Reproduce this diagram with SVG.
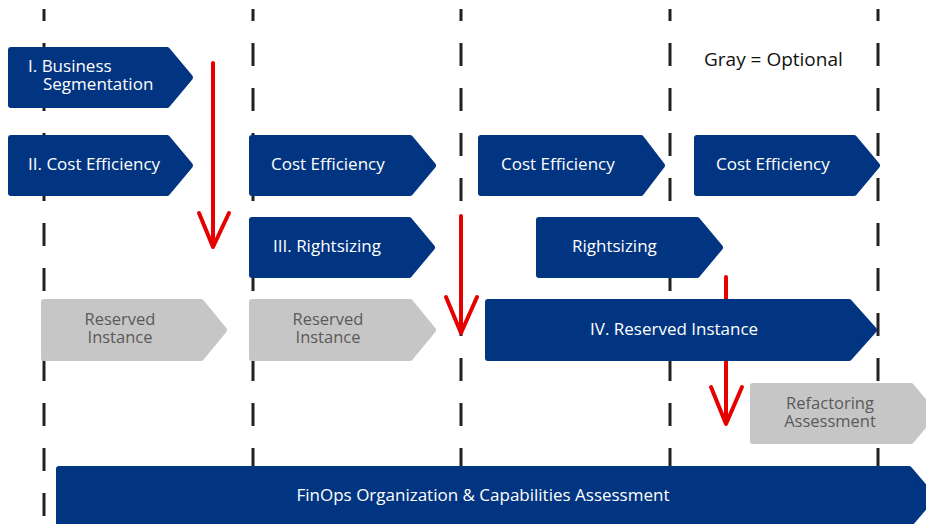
<svg xmlns="http://www.w3.org/2000/svg" width="926" height="524" viewBox="0 0 926 524">
<defs>
<style>
.lane{stroke:#222;stroke-width:3;stroke-dasharray:23 22;stroke-dashoffset:11;fill:none}
.blue{fill:#023581;stroke:#023581;stroke-width:6;stroke-linejoin:round}
.gray{fill:#C6C6C6;stroke:#C6C6C6;stroke-width:6;stroke-linejoin:round}
.wt{font-family:"Open Sans","Noto Sans",sans-serif;font-size:17px;fill:#fff}
.gt{font-family:"Open Sans","Noto Sans",sans-serif;font-size:16.5px;fill:#5a5a5a;text-anchor:middle}
.red{stroke:#E60000;stroke-width:4;fill:none;stroke-linecap:round;stroke-linejoin:round}
</style>
</defs>
<rect width="926" height="524" fill="#fff"/>
<g id="lanes">
<line class="lane" x1="44" y1="9" x2="44" y2="524"/>
<line class="lane" x1="253" y1="9" x2="253" y2="524"/>
<line class="lane" x1="461" y1="9" x2="461" y2="524"/>
<line class="lane" x1="670" y1="9" x2="670" y2="524"/>
<line class="lane" x1="878" y1="9" x2="878" y2="524"/>
</g>
<g id="connectors">
<path class="red" d="M213 63 V247 M199 213 L213 247 L229 213"/>
<path class="red" d="M461 216 V333 M446 297 L461 333 L477 297"/>
<path class="red" d="M726 277 V424 M711 387 L726 424 L742 387"/>
</g>
<g id="business-segmentation">
<path class="blue" d="M11 50 H167 L190 77.5 L167 105 H11 Z"/>
<text class="wt" x="28" y="72">I. Business</text>
<text class="wt" x="43" y="90">Segmentation</text>
</g>
<g id="cost-efficiency-1">
<path class="blue" d="M11 138 H167 L190 165.5 L167 193 H11 Z"/>
<text class="wt" x="28" y="170">II. Cost Efficiency</text>
</g>
<g id="cost-efficiency-2">
<path class="blue" d="M252 138 H410 L433 165.5 L410 193 H252 Z"/>
<text class="wt" x="271" y="170">Cost Efficiency</text>
</g>
<g id="cost-efficiency-3">
<path class="blue" d="M481 138 H641 L662 165.5 L641 193 H481 Z"/>
<text class="wt" x="501" y="170">Cost Efficiency</text>
</g>
<g id="cost-efficiency-4">
<path class="blue" d="M697 138 H854 L877 165.5 L854 193 H697 Z"/>
<text class="wt" x="716" y="170">Cost Efficiency</text>
</g>
<g id="rightsizing-1">
<path class="blue" d="M252 220 H409 L432 247.5 L409 275 H252 Z"/>
<text class="wt" x="273" y="252">III. Rightsizing</text>
</g>
<g id="rightsizing-2">
<path class="blue" d="M539 220 H697 L720 247.5 L697 275 H539 Z"/>
<text class="wt" x="572" y="252">Rightsizing</text>
</g>
<g id="reserved-instance-1">
<path class="gray" d="M44 302 H201 L224 330 L201 358 H44 Z"/>
<text class="gt" x="120" y="324.5">Reserved</text>
<text class="gt" x="120" y="343">Instance</text>
</g>
<g id="reserved-instance-2">
<path class="gray" d="M252 302 H410 L433 330 L410 358 H252 Z"/>
<text class="gt" x="328" y="324.5">Reserved</text>
<text class="gt" x="328" y="343">Instance</text>
</g>
<g id="reserved-instance-main">
<path class="blue" d="M488 302 H849 L874 330 L849 358 H488 Z"/>
<text class="wt" x="590" y="335">IV. Reserved Instance</text>
</g>
<g id="refactoring">
<path class="gray" d="M753 386 H911 L934 413.5 L911 441 H753 Z"/>
<text class="gt" x="830" y="408.5">Refactoring</text>
<text class="gt" x="830" y="427">Assessment</text>
</g>
<g id="finops">
<path class="blue" d="M59 469 H909 L933 497 L909 525 H59 Z"/>
<text class="wt" x="483" y="501" text-anchor="middle">FinOps Organization &amp; Capabilities Assessment</text>
</g>
<g id="legend">
<text x="704" y="66" font-family="'Open Sans','Noto Sans',sans-serif" font-size="19" fill="#111">Gray = Optional</text>
</g>
</svg>
